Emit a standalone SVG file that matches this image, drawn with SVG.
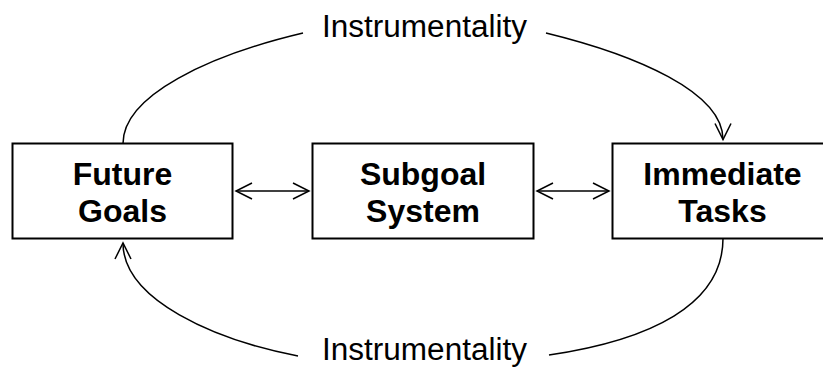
<svg xmlns="http://www.w3.org/2000/svg" width="823" height="367" viewBox="0 0 823 367">
<defs>
<marker id="ah" markerUnits="userSpaceOnUse" markerWidth="20" markerHeight="20" viewBox="-18 -10 20 20" refX="0" refY="0" orient="auto-start-reverse">
<path d="M-16,-8 L0,0 L-16,8" fill="none" stroke="#000" stroke-width="1.5"/>
</marker>
<style>
.box{fill:#fff;stroke:#000;stroke-width:2}
.lbl{font-family:"Liberation Sans",Arial,sans-serif;font-weight:bold;font-size:32px;text-anchor:middle;fill:#000}
.inst{font-family:"Liberation Sans",Arial,sans-serif;font-size:31px;fill:#000}
.con{fill:none;stroke:#000;stroke-width:1.5}
</style>
</defs>
<rect width="823" height="367" fill="#fff"/>
<g id="future-goals">
<rect class="box" x="12.5" y="143.5" width="220" height="95"/>
<text class="lbl" x="122.5" y="185">Future</text>
<text class="lbl" x="122.5" y="221.5">Goals</text>
</g>
<g id="subgoal-system">
<rect class="box" x="312.5" y="143.5" width="221" height="95"/>
<text class="lbl" x="423" y="185">Subgoal</text>
<text class="lbl" x="423" y="221.5">System</text>
</g>
<g id="immediate-tasks">
<rect class="box" x="612.5" y="143.5" width="220" height="95"/>
<text class="lbl" x="722.5" y="185">Immediate</text>
<text class="lbl" x="722.5" y="221.5">Tasks</text>
</g>
<g id="label-top">
<text class="inst" x="322" y="37" textLength="205" lengthAdjust="spacingAndGlyphs">Instrumentality</text>
</g>
<g id="label-bottom">
<text class="inst" x="322" y="359.5" textLength="205" lengthAdjust="spacingAndGlyphs">Instrumentality</text>
</g>
<g id="connectors">
<path class="con" d="M236,191 L309,191" marker-start="url(#ah)" marker-end="url(#ah)"/>
<path class="con" d="M537,191 L609,191" marker-start="url(#ah)" marker-end="url(#ah)"/>
<path class="con" d="M123,143.5 C123,95 210,55 303,33"/>
<path class="con" d="M546,33 C636,55 723,92 723,139.5" marker-end="url(#ah)"/>
<path class="con" d="M723,238.5 C723,305 650,340 549,355"/>
<path class="con" d="M298,356 C215,340 123,300 123,243" marker-end="url(#ah)"/>
</g>
</svg>
